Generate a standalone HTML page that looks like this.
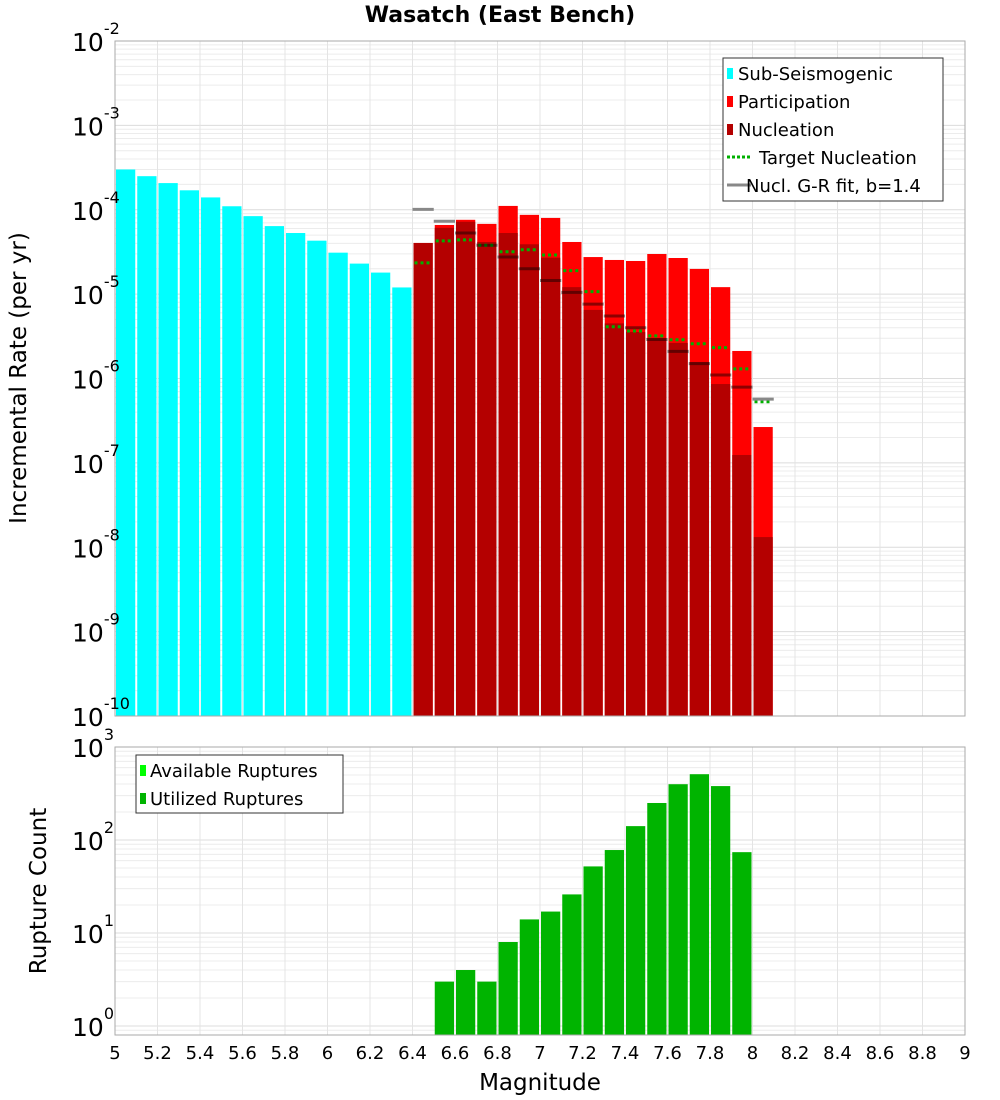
<!DOCTYPE html>
<html><head><meta charset="utf-8">
<style>
html,body{margin:0;padding:0;background:#fff;}
svg{display:block;font-family:"DejaVu Sans","Liberation Sans",sans-serif;}
</style></head>
<body>
<svg id="chart" width="1000" height="1100" viewBox="0 0 1000 1100" xmlns="http://www.w3.org/2000/svg">
<text x="500" y="22" text-anchor="middle" font-size="22" font-weight="bold">Wasatch (East Bench)</text>
<text transform="translate(26,378) rotate(-90)" text-anchor="middle" font-size="23">Incremental Rate (per yr)</text>
<text transform="translate(46,891) rotate(-90)" text-anchor="middle" font-size="23">Rupture Count</text>
<text x="540" y="1090" text-anchor="middle" font-size="23">Magnitude</text>
<g id="topG"></g>
<g id="botG"></g>
</svg>
<script>
const subMags=[5.05,5.15,5.25,5.35,5.45,5.55,5.65,5.75,5.85,5.95,6.05,6.15,6.25,6.35];
const subRates=[3.0e-4,2.5e-4,2.07e-4,1.7e-4,1.4e-4,1.1e-4,8.4e-5,6.4e-5,5.3e-5,4.3e-5,3.1e-5,2.3e-5,1.8e-5,1.2e-5];
const faultMags=[6.45,6.55,6.65,6.75,6.85,6.95,7.05,7.15,7.25,7.35,7.45,7.55,7.65,7.75,7.85,7.95,8.05];
const partRates=[4.04e-5,6.6e-5,7.6e-5,6.8e-5,1.11e-4,8.7e-5,8.0e-5,4.15e-5,2.75e-5,2.54e-5,2.47e-5,2.99e-5,2.68e-5,1.99e-5,1.21e-5,2.12e-6,2.66e-7];
const nuclRates=[4.04e-5,6.1e-5,7.2e-5,4.15e-5,5.3e-5,3.9e-5,2.7e-5,1.21e-5,6.5e-6,4.5e-6,3.56e-6,3.0e-6,2.64e-6,1.57e-6,8.6e-7,1.24e-7,1.32e-8];
const targetRates=[2.35e-5,4.27e-5,4.4e-5,3.8e-5,3.18e-5,3.36e-5,2.91e-5,1.9e-5,1.07e-5,4.1e-6,3.66e-6,3.2e-6,2.88e-6,2.58e-6,2.32e-6,1.3e-6,5.3e-7];
const grRates=[1.01e-4,7.3e-5,5.3e-5,3.8e-5,2.75e-5,2.0e-5,1.45e-5,1.05e-5,7.6e-6,5.5e-6,4.0e-6,2.9e-6,2.1e-6,1.5e-6,1.1e-6,7.9e-7,5.7e-7];
const countMags=[6.55,6.65,6.75,6.85,6.95,7.05,7.15,7.25,7.35,7.45,7.55,7.65,7.75,7.85,7.95];
const counts=[3,4,3,8,14,17,26,52,78,141,250,398,510,380,74];
const xTicks=[5,5.2,5.4,5.6,5.8,6,6.2,6.4,6.6,6.8,7,7.2,7.4,7.6,7.8,8,8.2,8.4,8.6,8.8,9];
const topExps=[-2,-3,-4,-5,-6,-7,-8,-9,-10];
const botExps=[3,2,1,0];

const NS="http://www.w3.org/2000/svg";
const L=115,R=965;
const X=m=>L+(m-5)*(R-L)/4;
const T0=41,T1=716;
const YT=v=>T0+(-2-Math.log10(v))*(T1-T0)/8;
const B0=747,B1=1035,BPD=93;
const YB=v=>B0+(3-Math.log10(v))*BPD;
const BW=(R-L)/40;
function mk(p,tag,a){const e=document.createElementNS(NS,tag);for(const k in a)e.setAttribute(k,a[k]);p.appendChild(e);return e;}
const topG=document.getElementById('topG'),botG=document.getElementById('botG');

function grid(g,y0,y1,Yf,lo,hi){
  for(let e=lo;e<hi;e++)for(let k=1;k<10;k++){const y=Yf(k*Math.pow(10,e));if(y<y0-0.5||y>y1+0.5)continue;
    const l=mk(g,'line',{x1:L,x2:R,y1:y,y2:y,stroke:k==1?'#dcdcdc':'#ececec','stroke-width':1});
    
    }
  xTicks.forEach(m=>{const l=mk(g,'line',{x1:X(m),x2:X(m),y1:y0,y2:y1,stroke:'#e4e4e4','stroke-width':1});
    
    });
}
grid(topG,T0,T1,YT,-10,-2);
grid(botG,B0,B1,YB,-1,3);

subMags.forEach((m,i)=>{const y=YT(subRates[i]);
  const r=mk(topG,'rect',{x:X(m-0.05)+1,y:y,width:BW-2,height:T1-y,fill:'#00ffff'});
  
  });
faultMags.forEach((m,i)=>{let y=YT(partRates[i]);
  const r=mk(topG,'rect',{x:X(m-0.05)+1,y:y,width:BW-2,height:T1-y,fill:'#ff0000'});
  
  
  y=YT(nuclRates[i]);
  const n=mk(topG,'rect',{x:X(m-0.05)+1,y:y,width:BW-2,height:T1-y,fill:'#b40000'});
  
  });
faultMags.forEach((m,i)=>{const y=YT(targetRates[i]);
  const l=mk(topG,'line',{x1:X(m-0.05)+2,x2:X(m+0.05)-2,y1:y,y2:y,stroke:'#00b000','stroke-width':3,'stroke-dasharray':'3,3'});
  
  
  const gy=YT(grRates[i]);const over=gy>YT(partRates[i]);
  const g=mk(topG,'line',{x1:X(m-0.05),x2:X(m+0.05),y1:gy,y2:gy,stroke:over?'rgba(0,0,0,0.45)':'#888','stroke-width':3});
  
  });
countMags.forEach((m,i)=>{const y=YB(counts[i]);
  const r=mk(botG,'rect',{x:X(m-0.05)+1,y:y,width:BW-2,height:B1-y,fill:'#00b400'});
  
  });

const f1=mk(topG,'rect',{x:L,y:T0,width:R-L,height:T1-T0,fill:'none',stroke:'#aaa','stroke-width':1});


const f2=mk(botG,'rect',{x:L,y:B0,width:R-L,height:B1-B0,fill:'none',stroke:'#aaa','stroke-width':1});



function ylab(g,y,e){const t=mk(g,'text',{x:72,y:y+10,'font-size':25});
  
  
  t.textContent='10';
  const s=mk(t,'tspan',{dy:-17,'font-size':16});s.textContent=String(e);}
topExps.forEach(e=>ylab(topG,YT(Math.pow(10,e)),e));
botExps.forEach(e=>ylab(botG,YB(Math.pow(10,e)),e));
xTicks.forEach(m=>{const t=mk(botG,'text',{x:X(m),y:1059,'text-anchor':'middle','font-size':18});
  
  
  t.textContent=String(m);});

const lg=mk(topG,'g',{});


mk(lg,'rect',{x:723,y:58,width:220,height:143,fill:'#fff',stroke:'#333','stroke-width':1});
const items=[['Sub-Seismogenic','#00ffff','box'],['Participation','#ff0000','box'],['Nucleation','#b40000','box'],['Target Nucleation','#00b000','dot'],['Nucl. G-R fit, b=1.4','#888','line']];
items.forEach((it,i)=>{const y=73+i*28;
  if(it[2]=='box'){mk(lg,'rect',{x:727,y:y-5,width:6,height:11,fill:it[1]});
    const t=mk(lg,'text',{x:738,y:y+7,'font-size':18});t.textContent=it[0];
    
    }
  else{mk(lg,'line',{x1:727,x2:751,y1:y,y2:y,stroke:it[1],'stroke-width':3,'stroke-dasharray':it[2]=='dot'?'3,2':'none'});
    const t=mk(lg,'text',{x:it[2]=='dot'?759:746,y:y+7,'font-size':18});t.textContent=it[0];
    
    }
});
const lb=mk(botG,'g',{});


mk(lb,'rect',{x:136,y:755,width:207,height:58,fill:'#fff',stroke:'#333','stroke-width':1});
[['Available Ruptures','#00ff00'],['Utilized Ruptures','#00b400']].forEach((it,i)=>{const y=770+i*28;
  mk(lb,'rect',{x:140,y:y-5,width:6,height:11,fill:it[1]});
  const t=mk(lb,'text',{x:150,y:y+7,'font-size':18});t.textContent=it[0];
  
  });
</script>
</body></html>
